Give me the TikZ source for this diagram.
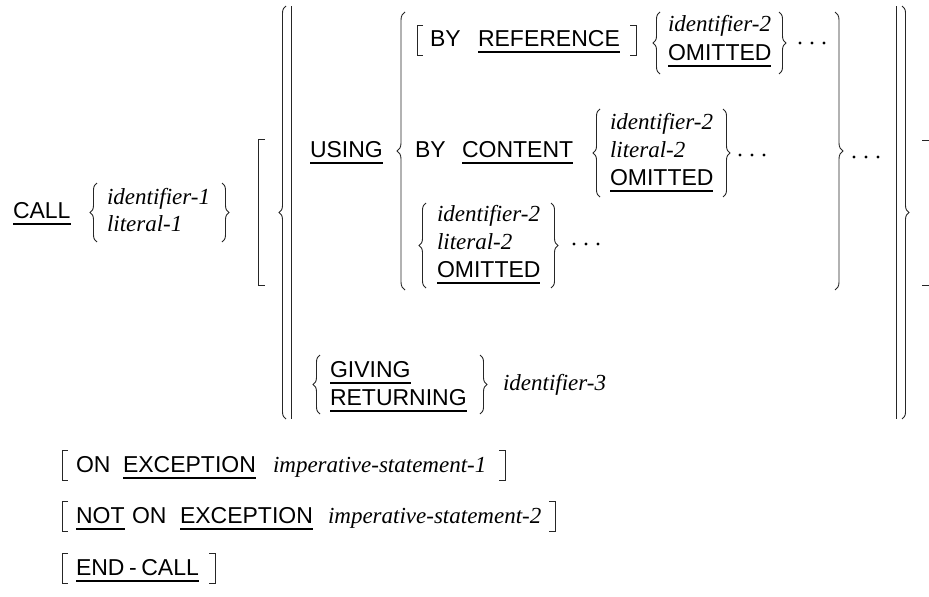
\documentclass[tikz,border=0pt]{standalone}
\usepackage{fontspec}
\setmainfont{Liberation Serif}
\setsansfont{Liberation Sans}
\usetikzlibrary{decorations.pathreplacing}
\newsavebox\ulbox
\newcommand\ukw[1]{\sbox\ulbox{#1}\rlap{\rule[-6.6pt]{\wd\ulbox}{1.3pt}}\usebox\ulbox}
\tikzset{
  kw/.style={font=\fontsize{23}{27}\selectfont\sffamily, inner sep=0pt, outer sep=0pt, anchor=base west},
  var/.style={font=\fontsize{23}{27}\selectfont\rmfamily\itshape, inner sep=0pt, outer sep=0pt, anchor=base west},
  lbrace/.style={decorate, decoration={brace, amplitude=7pt, aspect=0.5}, line width=0.9pt, draw=black!85},
  brk/.style={line width=1pt, draw=black!85},
  dotc/.style={fill=black},
}
\newcommand\threedots[3]{\fill[dotc] (#1,#3) circle (1.6pt) (#2,#3) circle (1.6pt) ({2*#2-#1},#3) circle (1.6pt);}
\begin{document}
\begin{tikzpicture}[x=1pt,y=-1pt]
\useasboundingbox (0,0) rectangle (929,597);
% CALL
\node[kw] (call) at (13,218) {\ukw{CALL}};
\draw[lbrace] (97,242) -- (97,183);
\node[var] (id1) at (107,204) {identifier-1};
\node[var] (lit1) at (107,231) {literal-1};
\draw[lbrace] (222,183) -- (222,242);
% big bracket
\draw[brk] (265,139) -- (258,139) -- (258,285) -- (265,285);
\draw[brk] (922,140) -- (929,140);
\draw[brk] (922,285) -- (929,285);
% outer brace and bars
\draw[lbrace] (286,419) -- (286,6);
\draw[brk] (291,6) -- (291,419);
\draw[brk] (896,6) -- (896,419);
\draw[lbrace] (902,6) -- (902,419);
% USING
\node[kw] (using) at (310,157) {\ukw{USING}};
\draw[lbrace, decoration={amplitude=8pt}] (405,290) -- (405,12);
\draw[lbrace, decoration={amplitude=8pt}] (835,12) -- (835,290);
\threedots{854}{866}{157}
% BY REFERENCE
\draw[brk] (423,25) -- (417,25) -- (417,55) -- (423,55);
\node[kw] (by1) at (430,46) {BY};
\node[kw] (ref) at (478,46) {\ukw{REFERENCE}};
\draw[brk] (630,25) -- (636,25) -- (636,55) -- (630,55);
\draw[lbrace] (660,74) -- (660,12);
\node[var] (id2a) at (668,31) {identifier-2};
\node[kw] (om1) at (668,60) {\ukw{OMITTED}};
\draw[lbrace] (779,12) -- (779,74);
\threedots{800}{812}{43}
% BY CONTENT
\node[kw] (by2) at (415,157) {BY};
\node[kw] (content) at (462,157) {\ukw{CONTENT}};
\draw[lbrace] (600,197) -- (600,109);
\node[var] (id2b) at (610,129) {identifier-2};
\node[var] (lit2b) at (610,157) {literal-2};
\node[kw] (om2) at (610,185) {\ukw{OMITTED}};
\draw[lbrace] (723,109) -- (723,197);
\threedots{740}{752}{155}
% third alternative
\draw[lbrace] (426,288) -- (426,203);
\node[var] (id2c) at (437,221) {identifier-2};
\node[var] (lit2c) at (437,249) {literal-2};
\node[kw] (om3) at (437,277) {\ukw{OMITTED}};
\draw[lbrace] (551,203) -- (551,288);
\threedots{574}{586}{244}
% GIVING / RETURNING
\draw[lbrace] (320,414) -- (320,355);
\node[kw] (giving) at (330,377) {\ukw{GIVING}};
\node[kw] (ret) at (330,405) {\ukw{RETURNING}};
\draw[lbrace] (480,355) -- (480,414);
\node[var] (id3) at (503,390) {identifier-3};
% ON EXCEPTION
\draw[brk] (68,450) -- (62,450) -- (62,480) -- (68,480);
\node[kw] (on1) at (76,472) {ON};
\node[kw] (exc1) at (123,472) {\ukw{EXCEPTION}};
\node[var] (imp1) at (273,472) {imperative-statement-1};
\draw[brk] (499,450) -- (505,450) -- (505,480) -- (499,480);
% NOT ON EXCEPTION
\draw[brk] (68,501) -- (62,501) -- (62,531) -- (68,531);
\node[kw] (not) at (76,523) {\ukw{NOT}};
\node[kw] (on2) at (132,523) {ON};
\node[kw] (exc2) at (180,523) {\ukw{EXCEPTION}};
\node[var] (imp2) at (328,523) {imperative-statement-2};
\draw[brk] (549,501) -- (555,501) -- (555,531) -- (549,531);
% END-CALL
\draw[brk] (68,553) -- (62,553) -- (62,583) -- (68,583);
\node[kw] (endcall) at (76,575) {\ukw{END\hspace{0.2em}-\hspace{0.2em}CALL}};
\draw[brk] (209,553) -- (215,553) -- (215,583) -- (209,583);
\end{tikzpicture}
\end{document}
